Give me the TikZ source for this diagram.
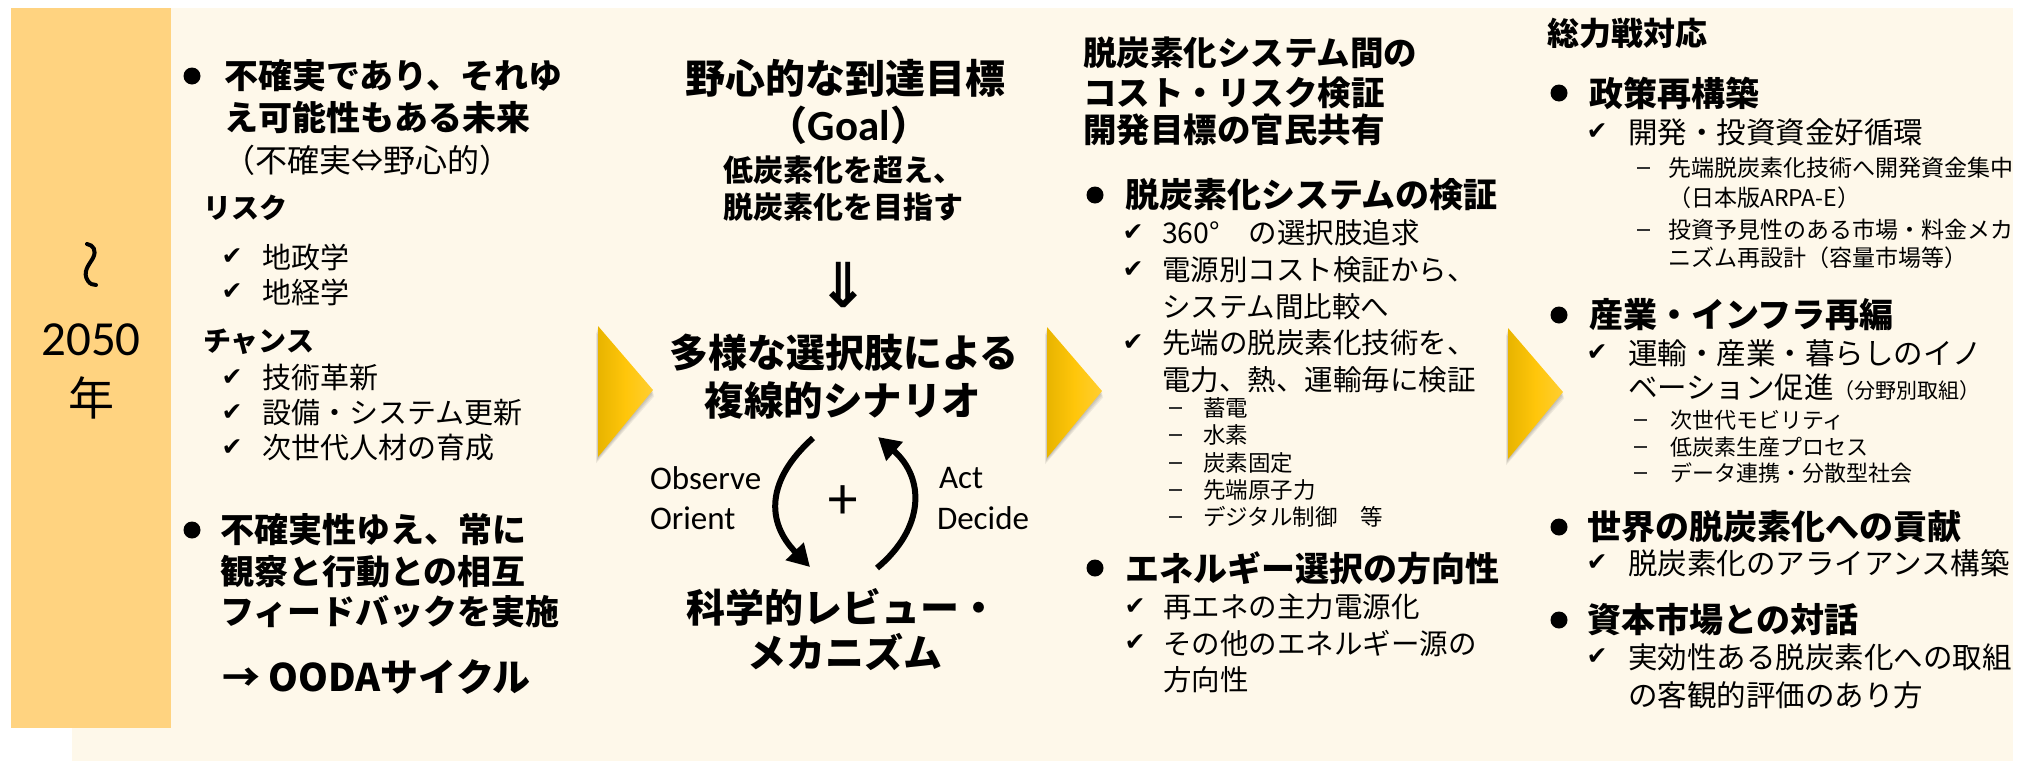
\documentclass[tikz,border=0pt]{standalone}
\usepackage{fontspec}
\setmainfont{Noto Sans CJK JP}
\newfontfamily\calfont{Carlito}
\newfontfamily\dvfont{DejaVu Sans}
\usetikzlibrary{arrows.meta}
\newcommand\myfs[1]{\fontsize{#1}{#1}\selectfont}
\definecolor{cream}{RGB}{254,248,234}
\definecolor{strip}{RGB}{255,211,128}
\definecolor{goldL}{RGB}{232,180,0}
\definecolor{goldM}{RGB}{255,198,10}
\definecolor{goldR}{RGB}{255,206,50}
\tikzset{
  lt/.style={anchor=west, inner sep=0, outer sep=0, text=black},
  hbig/.style={lt, font=\myfs{34}\bfseries},
  hsub/.style={lt, font=\myfs{28}\bfseries},
  rg/.style={lt, font=\myfs{29}},
  rgc/.style={lt, font=\myfs{28.5}},
  sub/.style={lt, font=\myfs{22.5}},
  ctr/.style={inner sep=0, outer sep=0, text=black},
  bul/.style={circle, fill=black, inner sep=0, minimum size=17},
  ck/.style={inner sep=0, font=\dvfont\myfs{25}},
  dsh/.style={lt, text=black!80},
  cyc/.style={line width=6, -{Triangle[length=22, width=24]}},
}
\newcommand\dashmark{\rule{13pt}{1.6pt}}
\begin{document}
\begin{tikzpicture}[x=1pt, y=-1pt]
\useasboundingbox (0,0) rectangle (2027,761);
\fill[white] (0,0) rectangle (2027,761);
% backgrounds
\fill[cream] (72,8) rectangle (2013,761);
\fill[strip] (11,8) rectangle (171,728);
% strip text
\draw[line width=4, line cap=round] (87,244) .. controls (93,245) and (97,250) .. (93,258) .. controls (89,265) and (82,272) .. (88,281) .. controls (90,284) and (93,285) .. (96,285);
\node[ctr, font=\calfont\myfs{49}] (yr) at (91,340) {2050};
\node[ctr, font=\myfs{46}] (nen) at (91,398) {年};
% chevrons
\foreach \x/\y [count=\i] in {598/326, 1047/327, 1508/328}{
  \foreach \s in {1,2,3,4}{
    \fill[black, opacity=0.06] (\x-\s*0.5,\y+\s*1.6) -- (\x+55+\s*0.3,\y+64+\s*1.6) -- (\x-\s*0.5,\y+131+\s*1.6) -- cycle;
  }
  \shade[left color=goldL, right color=goldR, middle color=goldM] (\x,\y) -- (\x+55,\y+64) -- (\x,\y+131) -- cycle;
}
% column 1
\node[bul] (c1b1) at (192,76) {};
\node[hbig] (c1l1) at (224,76) {不確実であり、それゆ};
\node[hbig] (c1l2) at (224,117) {え可能性もある未来};
\node[ctr, font=\myfs{32}] (c1l3) at (367,160) {（不確実⇔野心的）};
\node[hsub] (risk) at (203,208) {リスク};
\node[ck] (k1) at (232,257) {✔}; \node[rg] (r1) at (262,257) {地政学};
\node[ck] (k2) at (232,292) {✔}; \node[rg] (r2) at (262,292) {地経学};
\node[hsub] (chance) at (203,342) {チャンス};
\node[ck] (k3) at (232,378) {✔}; \node[rg] (r3) at (262,378) {技術革新};
\node[ck] (k4) at (232,413) {✔}; \node[rg] (r4) at (262,413) {設備・システム更新};
\node[ck] (k5) at (232,448) {✔}; \node[rg] (r5) at (262,448) {次世代人材の育成};
\node[bul] (c1b2) at (192,530) {};
\node[hbig] (c1m1) at (220,530) {不確実性ゆえ、常に};
\node[hbig] (c1m2) at (220,572) {観察と行動との相互};
\node[hbig] (c1m3) at (220,612) {フィードバックを実施};
\node[lt, font=\myfs{38}\bfseries] (ooda) at (222,677) {→ OODAサイクル};
% column 2
\node[ctr, font=\myfs{40}\bfseries] (goal1) at (845,78) {野心的な到達目標};
\node[ctr, font=\myfs{40}\bfseries] (goal2) at (849,125) {（{\calfont\myfs{43}Goal}）};
\node[lt, font=\myfs{30}\bfseries] (goal3) at (723,170) {低炭素化を超え、};
\node[lt, font=\myfs{30}\bfseries] (goal4) at (723,207) {脱炭素化を目指す};
\node[ctr, font=\dvfont\bfseries\myfs{62}] (darr) at (843,285) {⇓};
\node[ctr, font=\myfs{39}\bfseries] (scen1) at (844,353) {多様な選択肢による};
\node[ctr, font=\myfs{39.5}\bfseries] (scen2) at (843,400) {複線的シナリオ};
\node[lt, font=\calfont\myfs{33}] (obs) at (650,478) {Observe};
\node[lt, font=\calfont\myfs{33}] (ori) at (650,518) {Orient};
\node[lt, font=\calfont\myfs{33}] (act) at (939,478) {Act};
\node[lt, font=\calfont\myfs{33}] (dec) at (937,518) {Decide};
\node[ctr, font=\myfs{56}] (plus) at (843,503) {+};
\coordinate (la) at (813,438);
\coordinate (lb) at (810,567);
\coordinate (ra) at (877,568);
\coordinate (rb) at (878,437);
\draw[cyc] (la) .. controls (766,480) and (766,522) .. (lb);
\draw[cyc] (ra) .. controls (925,528) and (925,478) .. (rb);
\node[lt, font=\myfs{39}\bfseries] (rev1) at (686,607) {科学的レビュー・};
\node[ctr, font=\myfs{39}\bfseries] (rev2) at (845,652) {メカニズム};
% column 3
\node[lt, font=\myfs{33.5}\bfseries] (h31) at (1083,53) {脱炭素化システム間の};
\node[lt, font=\myfs{33.5}\bfseries] (h32) at (1083,93) {コスト・リスク検証};
\node[lt, font=\myfs{33.5}\bfseries] (h33) at (1083,130) {開発目標の官民共有};
\node[bul] (c3b1) at (1095,195) {};
\node[hbig] (c3t1) at (1125,195) {脱炭素化システムの検証};
\node[ck] (c3k1) at (1133,233) {✔}; \node[rgc] (c3r1) at (1162,233) {360°　の選択肢追求};
\node[ck] (c3k2) at (1133,270) {✔}; \node[rgc] (c3r2) at (1162,270) {電源別コスト検証から、};
\node[rgc] (c3r3) at (1162,307) {システム間比較へ};
\node[ck] (c3k3) at (1133,343) {✔}; \node[rgc] (c3r4) at (1162,343) {先端の脱炭素化技術を、};
\node[rgc] (c3r5) at (1162,380) {電力、熱、運輸毎に検証};
\node[dsh] (c3d1) at (1169,408) {\dashmark}; \node[sub] (c3s1) at (1203,408) {蓄電};
\node[dsh] (c3d2) at (1169,435) {\dashmark}; \node[sub] (c3s2) at (1203,435) {水素};
\node[dsh] (c3d3) at (1169,463) {\dashmark}; \node[sub] (c3s3) at (1203,463) {炭素固定};
\node[dsh] (c3d4) at (1169,490) {\dashmark}; \node[sub] (c3s4) at (1203,490) {先端原子力};
\node[dsh] (c3d5) at (1169,517) {\dashmark}; \node[sub] (c3s5) at (1203,517) {デジタル制御　等};
\node[bul] (c3b2) at (1095,568) {};
\node[hbig] (c3t2) at (1125,568) {エネルギー選択の方向性};
\node[ck] (c3k4) at (1135,607) {✔}; \node[rgc] (c3r6) at (1163,607) {再エネの主力電源化};
\node[ck] (c3k5) at (1135,643) {✔}; \node[rgc] (c3r7) at (1163,643) {その他のエネルギー源の};
\node[rgc] (c3r8) at (1163,680) {方向性};
% column 4
\node[lt, font=\myfs{32}\bfseries] (h41) at (1547,33) {総力戦対応};
\node[bul] (c4b1) at (1559,93) {};
\node[hbig] (c4t1) at (1589,93) {政策再構築};
\node[ck] (c4k1) at (1597,132) {✔}; \node[lt, font=\myfs{29.5}] (c4r1) at (1628,132) {開発・投資資金好循環};
\node[dsh] (c4d1) at (1637,168) {\dashmark}; \node[lt, font=\myfs{23}] (c4s1) at (1668,168) {先端脱炭素化技術へ開発資金集中};
\node[lt, font=\myfs{23}] (c4s2) at (1668,198) {（日本版ARPA-E）};
\node[dsh] (c4d2) at (1637,230) {\dashmark}; \node[lt, font=\myfs{23}] (c4s3) at (1668,230) {投資予見性のある市場・料金メカ};
\node[lt, font=\myfs{23}] (c4s4) at (1668,258) {ニズム再設計（容量市場等）};
\node[bul] (c4b2) at (1559,315) {};
\node[hbig] (c4t2) at (1589,315) {産業・インフラ再編};
\node[ck] (c4k2) at (1597,353) {✔}; \node[lt, font=\myfs{29.5}] (c4r2) at (1628,353) {運輸・産業・暮らしのイノ};
\node[lt, font=\myfs{29.5}] (c4r3) at (1628,387) {ベーション促進{\myfs{21}（分野別取組）}};
\node[dsh] (c4d3) at (1634,420) {\dashmark}; \node[lt, font=\myfs{22}] (c4s5) at (1670,420) {次世代モビリティ};
\node[dsh] (c4d4) at (1634,447) {\dashmark}; \node[lt, font=\myfs{22}] (c4s6) at (1670,447) {低炭素生産プロセス};
\node[dsh] (c4d5) at (1634,473) {\dashmark}; \node[lt, font=\myfs{22}] (c4s7) at (1670,473) {データ連携・分散型社会};
\node[bul] (c4b3) at (1559,527) {};
\node[hbig] (c4t3) at (1587,527) {世界の脱炭素化への貢献};
\node[ck] (c4k3) at (1597,563) {✔}; \node[lt, font=\myfs{29.5}] (c4r4) at (1628,563) {脱炭素化のアライアンス構築};
\node[bul] (c4b4) at (1559,620) {};
\node[hbig] (c4t4) at (1587,620) {資本市場との対話};
\node[ck] (c4k4) at (1597,657) {✔}; \node[lt, font=\myfs{29.5}] (c4r5) at (1628,657) {実効性ある脱炭素化への取組};
\node[lt, font=\myfs{29.5}] (c4r6) at (1628,695) {の客観的評価のあり方};
\end{tikzpicture}
\end{document}
